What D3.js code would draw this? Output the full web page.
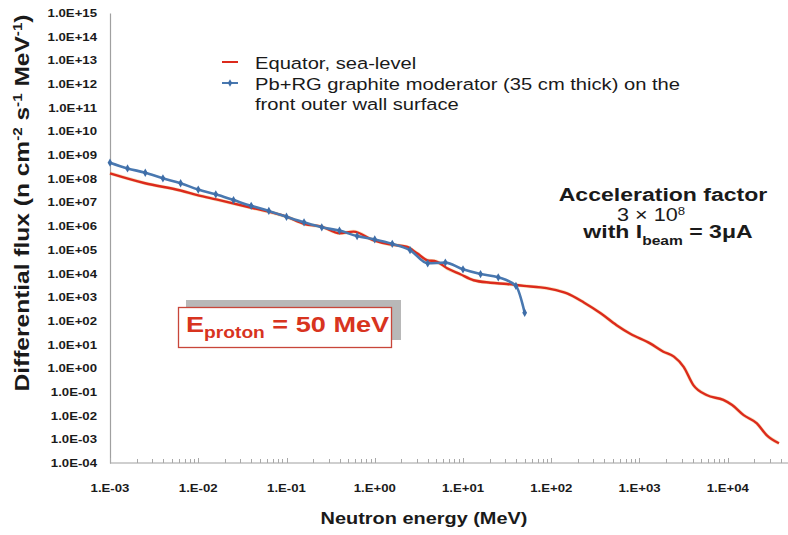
<!DOCTYPE html>
<html><head><meta charset="utf-8">
<script src="https://cdn.jsdelivr.net/npm/d3@7"></script>
<style>
html,body{margin:0;padding:0;background:#fff;}
svg{display:block;font-family:"Liberation Sans",Arial,sans-serif;}
</style></head>
<body><svg id="c" width="788" height="535"></svg>
<script>
// ---- data ----
const equatorEnergy = [0.001,0.0025,0.0063,0.01,0.016,0.04,0.1,0.16,0.25,0.4,0.575,0.955,1.48,2.29,3.02,3.89,5.01,6.61,9.33,13.2,20.4,31.6,49,75.9,100,151,234,363,550,794,1318,1862,2455,3162,4074,5754,8913,11220,15140,21380,27540,38020];
const equatorFlux   = [1.7e8,6.5e7,3.2e7,2.0e7,1.35e7,6.0e6,2.5e6,1.23e6,9.5e5,5.0e5,5.9e5,2.6e5,1.7e5,1.35e5,7.1e4,3.7e4,3.2e4,1.66e4,9.3e3,5.2e3,4.1e3,3.6e3,3.0e3,2.6e3,2.2e3,1.45e3,600,210,66,28,11.2,5.0,3.1,1.15,0.195,0.074,0.046,0.028,0.0105,0.0047,0.0015,0.00068];
const moderatorEnergy = [0.001,0.00158,0.00251,0.00398,0.00631,0.01,0.0158,0.0251,0.0398,0.0631,0.1,0.158,0.251,0.398,0.631,1,1.58,2.51,3.98,6.31,10,15.8,25.1,39.8,50];
const moderatorFlux   = [4.8e8,2.75e8,1.8e8,1.05e8,6.5e7,3.5e7,2.2e7,1.26e7,7.2e6,4.4e6,2.5e6,1.45e6,8.9e5,6.5e5,3.8e5,2.75e5,1.8e5,9.8e4,2.7e4,2.9e4,1.5e4,9.5e3,6.9e3,3.0e3,220];
const yTicks = [1e15,1e14,1e13,1e12,1e11,1e10,1e9,1e8,1e7,1e6,1e5,1e4,1e3,1e2,1e1,1e0,1e-1,1e-2,1e-3,1e-4];
const yTickLabels = ["1.0E+15","1.0E+14","1.0E+13","1.0E+12","1.0E+11","1.0E+10","1.0E+09","1.0E+08","1.0E+07","1.0E+06","1.0E+05","1.0E+04","1.0E+03","1.0E+02","1.0E+01","1.0E+00","1.0E-01","1.0E-02","1.0E-03","1.0E-04"];
const xTicks = [1e-3,1e-2,1e-1,1e0,1e1,1e2,1e3,1e4];
const xTickLabels = ["1.E-03","1.E-02","1.E-01","1.E+00","1.E+01","1.E+02","1.E+03","1.E+04"];
const seriesNames = ["Equator, sea-level","Pb+RG graphite moderator (35 cm thick) on the","front outer wall surface"];

// ---- layout ----
const svg = d3.select("#c");
const X0 = 110, X1 = 816, Y0 = 463, Y1 = 13;
const x = d3.scaleLog().domain([1e-3,1e5]).range([X0,X1]);
const y = d3.scaleLog().domain([1e-4,1e15]).range([Y0,Y1]);
const SX = 1.2; // horizontal stretch of the reference
const RED = "#dc2a1c", BLUE = "#4978b0", TXT = "#1a1a1a";

function stext(g, px, py, anchor, size, weight, fill){
  return g.append("text").attr("transform",`translate(${px},${py}) scale(${SX},1)`)
    .attr("text-anchor",anchor).attr("font-size",size).attr("font-weight",weight).attr("fill",fill||TXT);
}

// axes
const yAxis = svg.append("g").attr("transform",`translate(${X0},0)`)
  .call(d3.axisLeft(y).tickValues(yTicks).tickSize(0).tickPadding(0).tickFormat((d,i)=>yTickLabels[i]));
yAxis.select(".domain").attr("stroke","#a0a0a0").attr("stroke-width",1.2);
yAxis.selectAll(".tick text").remove();
yTicks.forEach((v,i)=>{ stext(svg, 97, y(v)+4, "end", 11, "bold").text(yTickLabels[i]); });

const minor = [];
for(let e=-3;e<5;e++) for(let k=1;k<10;k++) minor.push(k*Math.pow(10,e));
const xg = svg.append("g");
xg.append("line").attr("x1",X0).attr("x2",788).attr("y1",Y0).attr("y2",Y0).attr("stroke","#a0a0a0").attr("stroke-width",1.2);
xg.selectAll("line.m").data(minor.filter(v=>x(v)<788)).join("line").attr("class","m")
  .attr("x1",d=>Math.round(x(d))+0.5).attr("x2",d=>Math.round(x(d))+0.5)
  .attr("y1",Y0).attr("y2",(d,i)=>i%9===0?Y0-5:Y0-4).attr("stroke","#a8a8a8").attr("stroke-width",1);
xTicks.forEach((v,i)=>{ stext(svg, x(v), 492, "middle", 11, "bold").text(xTickLabels[i]); });

// axis titles
stext(svg, 424, 524, "middle", 16.6, "bold").text("Neutron energy (MeV)");
const yt = svg.append("text").attr("transform","translate(29,203) rotate(-90)")
  .attr("text-anchor","middle").attr("font-size",21).attr("font-weight","bold").attr("fill",TXT)
  .attr("textLength",377).attr("lengthAdjust","spacingAndGlyphs");
yt.append("tspan").text("Differential flux (n cm");
yt.append("tspan").attr("dy",-7).attr("font-size",13).text("-2");
yt.append("tspan").attr("dy",7).text(" s");
yt.append("tspan").attr("dy",-7).attr("font-size",13).text("-1");
yt.append("tspan").attr("dy",7).text(" MeV");
yt.append("tspan").attr("dy",-7).attr("font-size",13).text("-1");
yt.append("tspan").attr("dy",7).text(")");

// series
const line = d3.line().x(d=>x(d[0])).y(d=>y(d[1])).curve(d3.curveMonotoneX);
const eq = equatorEnergy.map((e,i)=>[e,equatorFlux[i]]);
const md = moderatorEnergy.map((e,i)=>[e,moderatorFlux[i]]);
svg.append("path").attr("d",line(eq)).attr("fill","none").attr("stroke","#e8b04a").attr("stroke-opacity",0.35).attr("stroke-width",3.6);
svg.append("path").attr("d",line(eq)).attr("fill","none").attr("stroke",RED).attr("stroke-width",2.4);
svg.append("path").attr("d",line(md)).attr("fill","none").attr("stroke",BLUE).attr("stroke-width",2.6);
svg.selectAll("path.mk").data(md).join("path").attr("class","mk")
  .attr("transform",d=>`translate(${x(d[0])},${y(d[1])})`)
  .attr("d",d3.symbol(d3.symbolDiamond,20)).attr("fill","#3f6ea8");

// legend
svg.append("line").attr("x1",222).attr("x2",238).attr("y1",62).attr("y2",62).attr("stroke",RED).attr("stroke-width",2);
svg.append("line").attr("x1",222).attr("x2",238).attr("y1",83).attr("y2",83).attr("stroke",BLUE).attr("stroke-width",2);
svg.append("path").attr("transform","translate(230,83)").attr("d",d3.symbol(d3.symbolDiamond,16)).attr("fill","#3f6ea8");
stext(svg, 255, 68.5, "start", 16.8, "normal").text(seriesNames[0]);
stext(svg, 255, 89.5, "start", 16.8, "normal").text(seriesNames[1]);
stext(svg, 255, 109.5, "start", 16.8, "normal").text(seriesNames[2]);

// annotation
stext(svg, 663, 201, "middle", 19.2, "bold").text("Acceleration factor");
const t2 = stext(svg, 651, 220.5, "middle", 18, "normal");
t2.append("tspan").text("3 \u00d7 10");
t2.append("tspan").attr("dy",-6).attr("font-size",11).text("8");
const t3 = stext(svg, 668, 238, "middle", 19.2, "bold");
t3.append("tspan").text("with I");
t3.append("tspan").attr("dy",7).attr("font-size",13).text("beam");
t3.append("tspan").attr("dy",-7).text(" = 3\u03bcA");

// E proton box
svg.append("rect").attr("x",186).attr("y",300).attr("width",215).attr("height",40).attr("fill","#b8b8b8");
svg.append("rect").attr("x",178.5).attr("y",307.5).attr("width",213).attr("height",40).attr("fill","#fff").attr("stroke","#c8463a").attr("stroke-width",1.3);
const ep = stext(svg, 186, 332, "start", 22.6, "bold", "#d8341f");
ep.append("tspan").text("E");
ep.append("tspan").attr("dy",6).attr("font-size",16).text("proton");
ep.append("tspan").attr("dy",-6).text(" = 50 MeV");
</script></body></html>
